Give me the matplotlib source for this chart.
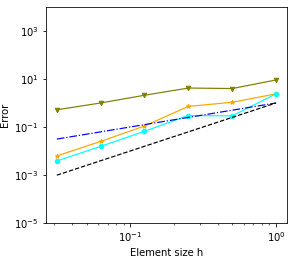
import numpy as np
import matplotlib
matplotlib.use('Agg')
import matplotlib.pyplot as plt
from matplotlib.ticker import FixedLocator, NullLocator

# element sizes and errors
h = [1 / 32, 1 / 16, 1 / 8, 1 / 4, 1 / 2, 1]
err_olive = [0.52, 1.0, 2.1, 4.2, 4.0, 9.1]
err_orange = [0.0062, 0.025, 0.11, 0.72, 1.07, 2.4]
err_cyan = [0.0038, 0.0155, 0.066, 0.30, 0.29, 2.4]

# reference slopes
slope1 = [x for x in h]
slope2 = [x ** 2 for x in h]


def main():
    fig = plt.figure(figsize=(294 / 72, 261 / 72), dpi=72)
    ax = fig.add_axes([0.156, 0.146, 0.82, 0.827])

    lw = 1.2
    ax.loglog(h, err_olive, color='olive', marker='v', markersize=4.5, linewidth=lw)
    ax.loglog(h, err_orange, color='orange', marker='*', markersize=4.5, linewidth=lw)
    ax.loglog(h, err_cyan, color='cyan', marker='o', markersize=4.5, linewidth=lw)
    ax.loglog(h, slope1, color='blue', linestyle='-.', linewidth=lw)
    ax.loglog(h, slope2, color='black', linestyle='--', linewidth=lw)

    ax.set_ylim(1e-5, 1e4)
    ax.yaxis.set_major_locator(FixedLocator([1e-5, 1e-3, 1e-1, 1e1, 1e3]))
    ax.yaxis.set_minor_locator(NullLocator())

    ax.set_xlabel('Element size h')
    ax.set_ylabel('Error')

    fig.savefig('out.png', dpi=72)


if __name__ == "__main__":
    main()
